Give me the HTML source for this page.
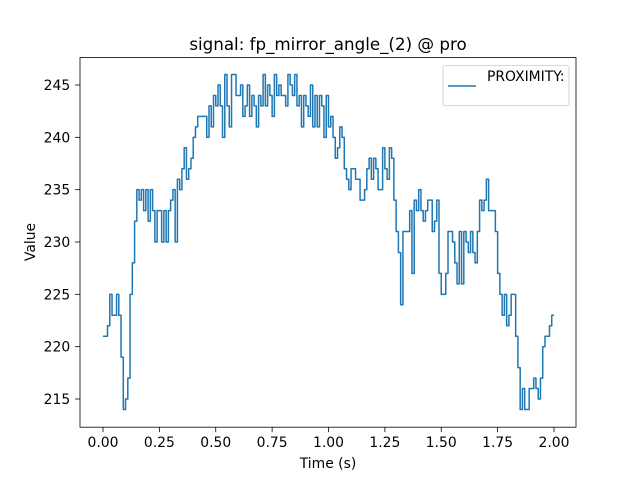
<!DOCTYPE html>
<html><head><meta charset="utf-8"><style>
body{margin:0;background:#fff;}
svg text{font-family:"DejaVu Sans","Liberation Sans",sans-serif;fill:#000;}
</style></head><body>
<svg id="chart" width="640" height="480" viewBox="0 0 640 480">
<rect x="0" y="0" width="640" height="480" fill="#fff"/>
<text x="328" y="50" font-size="16.7" text-anchor="middle">signal: fp_mirror_angle_(2) @ pro</text>
<path id="series" fill="none" stroke="#1f77b4" stroke-width="1.5" stroke-linejoin="round"/>
<rect x="80" y="57.6" width="496" height="369.6" fill="none" stroke="#000" stroke-width="0.8"/>
<g id="xticks"></g>
<g id="yticks"></g>
<text x="328" y="468" font-size="13.9" text-anchor="middle">Time (s)</text>
<text transform="translate(35,242) rotate(-90)" font-size="13.9" text-anchor="middle">Value</text>
<g>
<rect x="443" y="65.5" width="126" height="40" rx="2" fill="#fff" stroke="#ccc" stroke-width="0.8"/>
<line x1="448" y1="86" x2="476" y2="86" stroke="#1f77b4" stroke-width="1.5"/>
<text x="487" y="81" font-size="13.9">PROXIMITY:</text>
</g>
</svg>
<script>
const values = [221,221,222,225,223,223,225,223,219,214,215,217,225,228,232,235,234,235,233,235,232,235,233,230,233,233,230,233,230,233,234,235,230,236,235,237,239,236,237,238,240,241,242,242,242,242,240,243,241,244,243,245,243,240,246,243,241,246,246,244,244,245,242,243,245,242,244,243,241,244,243,246,243,245,244,242,246,244,245,244,244,243,246,245,244,246,243,244,241,244,243,242,245,241,244,241,244,243,240,244,241,242,240,238,239,241,240,237,236,235,237,237,236,236,234,234,235,237,238,236,238,237,235,235,239,237,236,239,238,234,231,229,224,231,231,231,233,227,234,233,235,233,232,233,234,234,231,232,234,227,225,225,227,231,231,230,228,226,231,226,231,230,229,231,229,228,231,234,233,234,236,233,233,233,231,227,225,223,225,222,223,225,225,221,218,214,216,214,214,216,216,217,216,215,217,220,221,221,222,223,223];
const tStep = 0.01;
const xTicks = [0,0.25,0.5,0.75,1.0,1.25,1.5,1.75,2.0];
const xTickLabels = ["0.00","0.25","0.50","0.75","1.00","1.25","1.50","1.75","2.00"];
const yTicks = [215,220,225,230,235,240,245];
const yTickLabels = ["215","220","225","230","235","240","245"];
const NS="http://www.w3.org/2000/svg";
function xs(t){return 103+(t-0)*(554-103)/2;}
function ys(v){return 399+(215-v)*(399-85)/30;}
let d="";
values.forEach((v,i)=>{
  const t=i*tStep;
  if(i===0) d+="M"+xs(t)+" "+ys(v);
  else { d+=" L"+xs(t)+" "+ys(values[i-1])+" L"+xs(t)+" "+ys(v); }
});
document.getElementById('series').setAttribute('d',d);
const xg=document.getElementById('xticks');
xTicks.forEach((t,i)=>{
  const l=document.createElementNS(NS,'line');
  l.setAttribute('x1',xs(t));l.setAttribute('x2',xs(t));l.setAttribute('y1',427.2);l.setAttribute('y2',432.1);
  l.setAttribute('stroke','#000');l.setAttribute('stroke-width','0.8');
  
  
  xg.appendChild(l);
  const tx=document.createElementNS(NS,'text');
  tx.setAttribute('x',xs(t));tx.setAttribute('y',447);tx.setAttribute('font-size','13.9');tx.setAttribute('text-anchor','middle');
  tx.textContent=xTickLabels[i];
  
  
  xg.appendChild(tx);
});
const yg=document.getElementById('yticks');
yTicks.forEach((v,i)=>{
  const l=document.createElementNS(NS,'line');
  l.setAttribute('x1',75.1);l.setAttribute('x2',80);l.setAttribute('y1',ys(v));l.setAttribute('y2',ys(v));
  l.setAttribute('stroke','#000');l.setAttribute('stroke-width','0.8');
  
  
  yg.appendChild(l);
  const tx=document.createElementNS(NS,'text');
  tx.setAttribute('x',70.2);tx.setAttribute('y',ys(v)+5);tx.setAttribute('font-size','13.9');tx.setAttribute('text-anchor','end');
  tx.textContent=yTickLabels[i];
  
  
  yg.appendChild(tx);
});
</script>
</body></html>
